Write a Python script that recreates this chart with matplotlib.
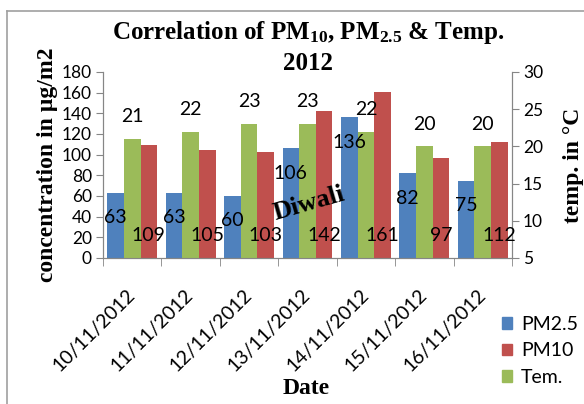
import numpy as np
import matplotlib
matplotlib.use("Agg")
import matplotlib.pyplot as plt
from matplotlib.lines import Line2D
from matplotlib.patches import Patch
import matplotlib.transforms as mtransforms

dates = ["10/11/2012", "11/11/2012", "12/11/2012", "13/11/2012",
         "14/11/2012", "15/11/2012", "16/11/2012"]
pm25 = [63, 63, 60, 106, 136, 82, 75]
pm10 = [109, 105, 103, 142, 161, 97, 112]
temp = [21, 22, 23, 23, 22, 20, 20]

blue = "#4F81BD"
red = "#C0504D"
green = "#9BBB59"
axis_grey = "#868686"

plt.rcParams["mathtext.fontset"] = "custom"
plt.rcParams["mathtext.rm"] = "Liberation Serif:bold"
plt.rcParams["mathtext.it"] = "Liberation Serif:bold"
plt.rcParams["mathtext.bf"] = "Liberation Serif:bold"

sans = "Lato"
serif = "Liberation Serif"

W, H = 584, 404
fig = plt.figure(figsize=(W / 100, H / 100), dpi=100)
ax = fig.add_axes([103 / W, 1 - 258 / H, (512 - 103) / W, (258 - 72) / H])
ax2 = ax.twinx()

x = np.arange(len(dates))
bw = 0.285

ax.bar(x - bw, pm25, bw, color=blue, zorder=2)
ax.bar(x + bw, pm10, bw, color=red, zorder=2)
ax2.bar(x, temp, bw, color=green, zorder=2)

ax.set_xlim(-0.5, len(dates) - 0.5)
ax.set_ylim(0, 180)
ax.set_yticks(np.arange(0, 181, 20))
ax2.set_ylim(5, 30)
ax2.set_yticks(np.arange(5, 31, 5))

# data labels (all drawn on the top axes so bars never cover them)
lab_kw = dict(textcoords="offset points", ha="center", va="center",
              fontsize=14, family=sans, zorder=5, annotation_clip=False)
for xi, v in zip(x, pm25):
    ax2.annotate(str(v), (xi - bw, v), xycoords=ax.transData, xytext=(0, -18), **lab_kw)
for xi, v in zip(x, pm10):
    ax2.annotate(str(v), (xi + bw, 0), xycoords=ax.transData, xytext=(0, 16.5), **lab_kw)
for xi, v in zip(x, temp):
    ax2.annotate(str(v), (xi, v), xytext=(0, 16), **lab_kw)

ax2.text(3.03, 5 + 53 / 180 * 25, "Diwali", rotation=16, ha="center", va="center",
         fontsize=19, family=serif, fontweight="bold", zorder=6)

# axes styling
for a in (ax, ax2):
    a.spines["top"].set_visible(False)
    for s in ("left", "right", "bottom"):
        a.spines[s].set_color(axis_grey)
ax.tick_params(axis="y", length=5, color=axis_grey, labelsize=12.5, pad=3)
ax2.tick_params(axis="y", length=5, color=axis_grey, labelsize=12.5, pad=3)
for lab in ax.get_yticklabels() + ax2.get_yticklabels():
    lab.set_family(sans)

ax.set_xticks(x)
ax.set_xticklabels(dates, rotation=45, ha="right", va="top", fontsize=14, family=sans)
ax.tick_params(axis="x", which="major", length=0, pad=20)
ax.set_xticks(np.arange(-0.5, len(dates), 1), minor=True)
ax.tick_params(axis="x", which="minor", length=6, color=axis_grey)
shift = mtransforms.ScaledTranslation(6 / 100, 0, fig.dpi_scale_trans)
for lab in ax.get_xticklabels():
    lab.set_transform(lab.get_transform() + shift)

ax.set_ylabel("concentration in µg/m2", fontsize=17, family=serif, fontweight="bold", labelpad=3)
ax2.set_ylabel("temp. in °C", fontsize=17, family=serif, fontweight="bold", labelpad=14)
fig.text(306 / W, 1 - 388 / H, "Date", ha="center", va="center",
         fontsize=17, family=serif, fontweight="bold")

fig.text(308 / W, 1 - 47 / H, "Correlation of PM$_{10}$, PM$_{2.5}$ & Temp.\n2012",
         ha="center", va="center", fontsize=18, family=serif, fontweight="bold",
         linespacing=1.35)

handles = [Patch(color=blue), Patch(color=red), Patch(color=green)]
fig.legend(handles, ["PM2.5", "PM10", "Tem."], loc="upper left",
           bbox_to_anchor=(494 / W, 1 - 308 / H), frameon=False,
           prop={"family": sans, "size": 14}, handlelength=0.55, handleheight=0.55,
           handletextpad=0.45, labelspacing=0.5, borderaxespad=0)

# chart area border (left and top edges visible)
fig.add_artist(Line2D([7 / W, 7 / W], [0, 1 - 11 / H], transform=fig.transFigure,
                      color="#a0a0a0", lw=1.2))
fig.add_artist(Line2D([7 / W, 1], [1 - 11 / H, 1 - 11 / H], transform=fig.transFigure,
                      color="#a0a0a0", lw=1.2))

fig.savefig("out.png", dpi=100)
